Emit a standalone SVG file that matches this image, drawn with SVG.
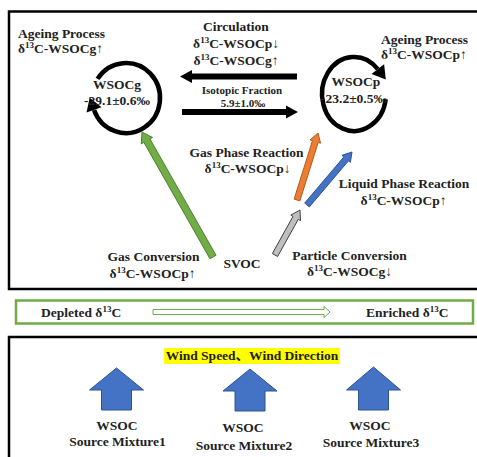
<svg xmlns="http://www.w3.org/2000/svg" width="477" height="457" viewBox="0 0 477 457">
<style>
text{font-family:"Liberation Serif","Times New Roman","Noto Sans CJK SC",serif;font-weight:bold;font-size:13.5px;fill:#222}
.m{text-anchor:middle}
.s{font-size:11px}
.sup{font-size:9px}
.frame{fill:none;stroke:#000;stroke-width:2.5}
.ring{fill:none;stroke:#000;stroke-width:4.5}
.bar{fill:#000}
.blk{fill:#4472C4;stroke:#2F528F;stroke-width:1}
</style>
<rect width="477" height="457" fill="#fff"/>
<rect class="frame" x="9" y="11.5" width="480" height="277.5"/>
<rect x="16" y="300.5" width="457" height="23" fill="#fff" stroke="#70AD47" stroke-width="2.5"/>
<rect class="frame" x="9" y="337" width="480" height="140"/>

<g id="wsocg">
<path class="ring" d="M97.5,78.9 A34,35 0 1 1 94.05,109.97"/>
<polygon points="86.5,112.6 101.5,107.3 89.7,97.7" fill="#000"/>
<text class="m" x="117" y="89">WSOCg</text>
<text class="m" x="117" y="105">-29.1±0.6‰</text>
</g>
<g id="wsocp">
<path class="ring" d="M385.7,99.2 A32,37 0 1 1 377.8,69.2"/>
<polygon points="384.1,64.3 371.5,74.1 385.8,79.5" fill="#000"/>
<text class="m" x="356" y="86">WSOCp</text>
<text class="m" x="354" y="103">-23.2±0.5‰</text>
</g>

<g id="connectors">
<polygon class="bar" points="297,73.5 192,73.5 192,70 180,76.5 192,83 192,79.5 297,79.5"/>
<polygon class="bar" points="182,109 286,109 286,105.5 298,112 286,118.5 286,115 182,115"/>
<polygon fill="#70AD47" stroke="#507E32" stroke-width="1" points="216.04,255.27 149.98,138.96 152.59,137.48 142,132 141.29,143.90 143.90,142.42 209.96,258.73"/>
<polygon fill="#ED7D31" stroke="#AE5A21" stroke-width="1" points="299.86,200.90 318.17,142.49 320.56,143.23 318,133 310.06,139.95 312.45,140.69 294.14,199.10"/>
<polygon fill="#4472C4" stroke="#2F528F" stroke-width="1" points="309.29,206.94 348.47,160.80 350.37,162.42 352,152 341.99,155.30 343.89,156.92 304.71,203.06"/>
<polygon fill="#BFBFBF" stroke="#404040" stroke-width="1" points="277.62,256.46 298.25,219.33 300.44,220.54 300,210 290.82,215.20 293.01,216.41 272.38,253.54"/>
<polygon fill="#fff" stroke="#70AD47" stroke-width="1" points="153,309.5 324,309.5 324,306.5 330,312 324,317.5 324,314.5 153,314.5"/>
</g>

<g id="ageing-left">
<text x="18" y="38">Ageing Process</text>
<text x="18" y="53">δ<tspan class="sup" dy="-5">13</tspan><tspan dy="5">C-WSOCg↑</tspan></text>
</g>
<g id="circulation">
<text class="m" x="236" y="31">Circulation</text>
<text class="m" x="236" y="48">δ<tspan class="sup" dy="-5">13</tspan><tspan dy="5">C-WSOCp↓</tspan></text>
<text class="m" x="236" y="64.5">δ<tspan class="sup" dy="-5">13</tspan><tspan dy="5">C-WSOCg↑</tspan></text>
<text class="m s" x="242" y="94">Isotopic Fraction</text>
<text class="m s" x="243" y="107">5.9±1.0‰</text>
</g>
<g id="ageing-right">
<text x="381" y="44">Ageing Process</text>
<text x="381" y="59">δ<tspan class="sup" dy="-5">13</tspan><tspan dy="5">C-WSOCp↑</tspan></text>
</g>
<g id="gas-phase">
<text class="m" x="246.5" y="157">Gas Phase Reaction</text>
<text class="m" x="247.5" y="172.5">δ<tspan class="sup" dy="-5">13</tspan><tspan dy="5">C-WSOCp↓</tspan></text>
</g>
<g id="liquid-phase">
<text class="m" x="404" y="188">Liquid Phase Reaction</text>
<text class="m" x="403.5" y="204.5">δ<tspan class="sup" dy="-5">13</tspan><tspan dy="5">C-WSOCp↑</tspan></text>
</g>
<g id="gas-conversion">
<text class="m" x="153.5" y="260.5">Gas Conversion</text>
<text class="m" x="152.5" y="277.5">δ<tspan class="sup" dy="-5">13</tspan><tspan dy="5">C-WSOCp↑</tspan></text>
</g>
<g id="svoc">
<text class="m" x="242" y="268">SVOC</text>
</g>
<g id="particle-conversion">
<text class="m" x="349.5" y="259.5">Particle Conversion</text>
<text class="m" x="349.5" y="276">δ<tspan class="sup" dy="-5">13</tspan><tspan dy="5">C-WSOCg↓</tspan></text>
</g>

<g id="scale">
<text x="41" y="317">Depleted δ<tspan class="sup" dy="-5">13</tspan><tspan dy="5">C</tspan></text>
<text x="366" y="317">Enriched δ<tspan class="sup" dy="-5">13</tspan><tspan dy="5">C</tspan></text>
</g>

<g id="wind">
<rect x="164" y="348" width="176" height="16" fill="#FFFF00"/>
<text class="m" x="252" y="360">Wind Speed、Wind Direction</text>
</g>
<g id="source1">
<polygon class="blk" points="101.5,410 101.5,390 89.5,390 116.5,368 143.5,390 131.5,390 131.5,410"/>
<text class="m" x="117" y="430">WSOC</text>
<text class="m" x="117.5" y="445.5">Source Mixture1</text>
</g>
<g id="source2">
<polygon class="blk" points="235,411 235,391 223,391 250,369 277,391 265,391 265,411"/>
<text class="m" x="243" y="432">WSOC</text>
<text class="m" x="244" y="450">Source Mixture2</text>
</g>
<g id="source3">
<polygon class="blk" points="358.5,410 358.5,390 346.5,390 373.5,367 400.5,390 388.5,390 388.5,410"/>
<text class="m" x="370" y="430">WSOC</text>
<text class="m" x="371" y="447">Source Mixture3</text>
</g>
</svg>
